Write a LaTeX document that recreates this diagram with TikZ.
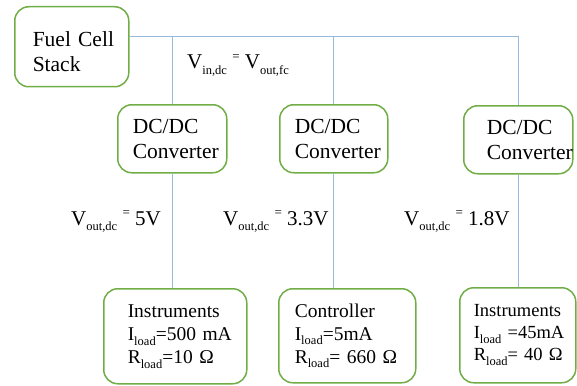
\documentclass[tikz,border=0pt]{standalone}
\usepackage{fontspec}
\setmainfont{Liberation Serif}
\definecolor{boxgreen}{RGB}{112,173,71}
\definecolor{wireblue}{RGB}{150,186,220}
\newcommand\sbs[1]{\raisebox{-0.25em}{\fontsize{12.5}{12.5}\selectfont #1}}
\newcommand\smeq{\raisebox{0.4em}{\fontsize{13}{13}\selectfont =}}
\begin{document}
\begin{tikzpicture}[x=1pt,y=-1pt,
  box/.style={draw=boxgreen, line width=1.5pt, rounded corners=14pt, align=left,
    inner ysep=0pt, anchor=north west},
  bigtext/.style={font=\fontsize{21.5}{25.5}\selectfont},
  loadtext/.style={font=\fontsize{19.5}{23}\selectfont},
  lbl/.style={font=\fontsize{21}{24}\selectfont, inner sep=0pt, anchor=base west},
  wire/.style={draw=wireblue, line width=1pt}]
\useasboundingbox (0,0) rectangle (577,385);

\node[box, bigtext, inner xsep=18pt, text width=78pt, minimum height=80pt] (fc) at (14,6) {\rule{0pt}{25pt}\mbox{Fuel Cell}\\\mbox{Stack}};

\node[box, bigtext, inner xsep=15pt, text width=79pt, minimum height=68pt] (dc1) at (117,104) {\mbox{DC/DC}\\\mbox{Converter}};
\node[box, bigtext, inner xsep=15pt, text width=78pt, minimum height=68pt] (dc2) at (279,104) {\mbox{DC/DC}\\\mbox{Converter}};
\node[box, bigtext, inner xsep=23pt, text width=63pt, minimum height=68pt] (dc3) at (463,105) {\mbox{DC/DC}\\\mbox{Converter}};

\node[box, loadtext, inner xsep=24pt, text width=95pt, minimum height=95pt] (ld1) at (103,288)
  {\mbox{Instruments}\\\mbox{I\sbs{load}=500 mA}\\\mbox{R\sbs{load}=10 Ω}};
\node[box, loadtext, inner xsep=16pt, text width=105pt, minimum height=94pt] (ld2) at (278,288)
  {\mbox{Controller}\\\mbox{I\sbs{load}=5mA}\\\mbox{R\sbs{load}= 660 Ω}};
\node[box, font=\fontsize{18.5}{22}\selectfont, inner xsep=14pt, text width=88pt, minimum height=95pt] (ld3) at (459,287)
  {\mbox{Instruments}\\\mbox{I\sbs{load} =45mA}\\\mbox{R\sbs{load}= 40 Ω}};

\coordinate (bus) at (518,37);
\draw[wire] (fc.east |- bus) -- (dc3.north |- bus) -- (dc3.north);
\draw[wire] (dc1.north |- bus) -- (dc1.north);
\draw[wire] (dc2.north |- bus) -- (dc2.north);
\draw[wire] (dc1.south) -- (dc1.south |- ld1.north);
\draw[wire] (dc2.south) -- (dc2.south |- ld2.north);
\draw[wire] (dc3.south) -- (dc3.south |- ld3.north);

\node[lbl] (vin) at (187,69) {V\sbs{in,dc} \smeq{} V\sbs{out,fc}};
\node[lbl] (vo1) at (71,225) {V\sbs{out,dc} \smeq{} 5V};
\node[lbl] (vo2) at (223,225) {V\sbs{out,dc} \smeq{} 3.3V};
\node[lbl] (vo3) at (404,225) {V\sbs{out,dc} \smeq{} 1.8V};
\end{tikzpicture}
\end{document}
